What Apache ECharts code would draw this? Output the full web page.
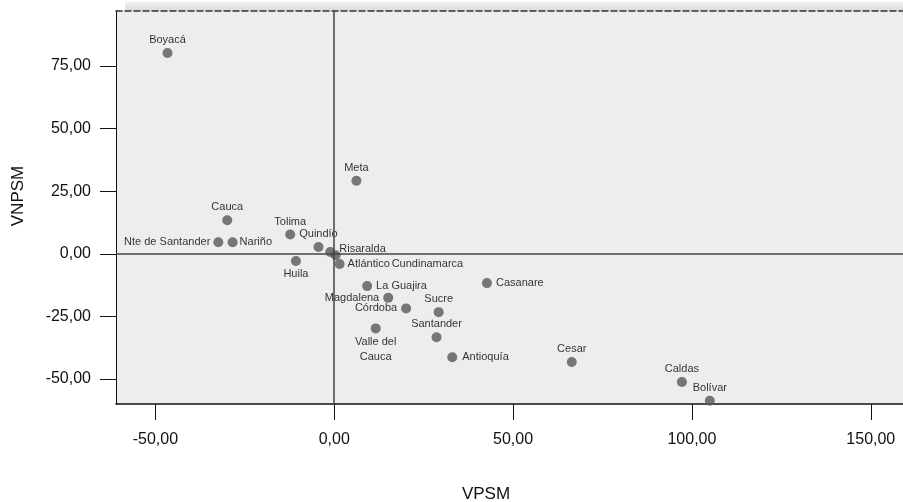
<!DOCTYPE html>
<html>
<head>
<meta charset="utf-8">
<script src="https://cdn.jsdelivr.net/npm/echarts@6/dist/echarts.min.js"></script>
<style>html,body{margin:0;padding:0;background:#fff}#c{width:903px;height:502px}</style>
</head>
<body>
<div id="c"></div>
<script>
// Data
const names = ['Boyacá','Meta','Cauca','Nte de Santander','Nariño','Tolima','Quindío','Risaralda','Cundinamarca','Atlántico','Huila','La Guajira','Magdalena','Córdoba','Sucre','Valle del\nCauca','Santander','Casanare','Antioquía','Cesar','Caldas','Bolívar'];
const vpsm  = [-46.6, 6.2, -29.9, -32.4, -28.4, -12.3, -4.4, -1.1, 0.4, 1.5, -10.7, 9.2, 15.1, 20.1, 29.2, 11.6, 28.6, 42.7, 33.0, 66.4, 97.2, 105.0];
const vnpsm = [80.2, 29.2, 13.4, 4.6, 4.6, 7.7, 2.7, 0.7, -0.6, -4.1, -2.9, -12.9, -17.6, -21.8, -23.3, -29.8, -33.3, -11.7, -41.3, -43.2, -51.2, -58.7];
const xTicks = [-50, 0, 50, 100, 150];
const yTicks = [-50, -25, 0, 25, 50, 75];

// label placement (style only)
const labelPlace = {
  'Nte de Santander': { position: 'left', distance: 3 },
  'Nariño': { position: 'right', distance: 2 },
  'Risaralda': { position: [14, 2], align: 'left', verticalAlign: 'middle' },
  'Cundinamarca': { position: [61, 14], align: 'left', verticalAlign: 'middle' },
  'Atlántico': { position: 'right', distance: 3 },
  'Huila': { position: 'bottom' },
  'La Guajira': { position: 'right', distance: 4 },
  'Magdalena': { position: 'left', distance: 4 },
  'Córdoba': { position: 'left', distance: 4 },
  'Valle del\nCauca': { position: 'bottom', distance: 1, lineHeight: 15 },
  'Casanare': { position: 'right', distance: 4 },
  'Antioquía': { position: 'right', distance: 5 }
};

const FONT = '"Liberation Sans", Arial, Helvetica, sans-serif';
const fmt = v => v.toFixed(2).replace('.', ',');

const data = names.map((n, i) => ({
  name: n,
  value: [vpsm[i], vnpsm[i]],
  label: labelPlace[n] || { position: 'top' }
}));

const chart = echarts.init(document.getElementById('c'), null, { renderer: 'canvas' });
chart.setOption({
  animation: false,
  backgroundColor: '#ffffff',
  textStyle: { fontFamily: FONT },
  grid: { left: 116, top: 11, right: 0, bottom: 98, show: true, backgroundColor: '#ededed', borderWidth: 0 },
  graphic: [
    { type: 'rect', shape: { x: 125, y: 1, width: 778, height: 10 }, z: -1,
      style: { fill: new echarts.graphic.LinearGradient(0, 0, 0, 1, [{ offset: 0, color: '#f6f6f6' }, { offset: 1, color: '#d9d9d9' }]) } },
    { type: 'text', x: 486, y: 494, style: { text: 'VPSM', font: '17px ' + FONT, fill: '#111', align: 'center', verticalAlign: 'middle' } },
    { type: 'text', x: 18, y: 196, rotation: Math.PI / 2, style: { text: 'VNPSM', font: '17px ' + FONT, fill: '#111', align: 'center', verticalAlign: 'middle' } }
  ],
  xAxis: [{
    type: 'value', min: -61, max: 159, position: 'bottom',
    axisLine: { show: true, onZero: false, lineStyle: { color: '#111', width: 1.5 } },
    axisTick: { show: true, length: 16, customValues: xTicks, lineStyle: { color: '#111', width: 1 } },
    axisLabel: { customValues: xTicks, margin: 28, formatter: fmt, fontSize: 16, color: '#111', fontFamily: FONT },
    splitLine: { show: false }
  }, {
    type: 'value', min: -61, max: 159, position: 'top',
    axisLine: { show: true, onZero: false, lineStyle: { color: '#333', width: 1.5, type: [6, 3] } },
    axisTick: { show: false }, axisLabel: { show: false }, splitLine: { show: false }
  }],
  yAxis: {
    type: 'value', min: -60, max: 97,
    axisLine: { show: true, onZero: false, lineStyle: { color: '#111', width: 1 } },
    axisTick: { show: true, length: 16, customValues: yTicks, lineStyle: { color: '#111', width: 1 } },
    axisLabel: { customValues: yTicks, margin: 25, formatter: fmt, fontSize: 16, color: '#111', fontFamily: FONT },
    splitLine: { show: false }
  },
  series: [{
    type: 'scatter',
    xAxisIndex: 0,
    clip: false,
    symbolSize: 10,
    itemStyle: { color: '#575757' },
    label: { show: true, formatter: '{b}', fontSize: 11, color: '#000', fontFamily: FONT, distance: 1, lineHeight: 14 },
    labelLayout: { hideOverlap: false },
    data: data,
    markLine: {
      silent: true, symbol: 'none', label: { show: false },
      lineStyle: { color: '#444', width: 1.5, type: 'solid' },
      data: [{ xAxis: 0 }, { yAxis: 0 }]
    }
  }]
});
</script>
</body>
</html>
